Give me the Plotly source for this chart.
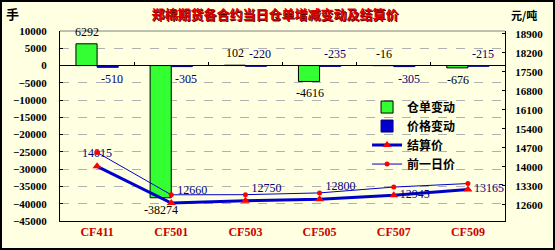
import plotly.graph_objects as go

categories = ["CF411", "CF501", "CF503", "CF505", "CF507", "CF509"]
cangdan_change = [6292, -38274, 102, -4616, -16, -676]
price_change = [-510, -305, -220, -235, -305, -215]
settle_price = [14015, 12660, 12750, 12800, 12945, 13165]
prev_price = [14525, 12965, 12970, 13035, 13250, 13380]

cangdan_label_side = ["above", "below", "above", "below", "above", "below"]
price_label_side = ["below", "below", "above", "above", "below", "above"]
settle_text_pos = ["top center", "top right", "top right", "top right", "middle right", "middle right"]

BG = "#FFFFE1"
SERIF = "Liberation Serif"
CJK = "Noto Sans CJK SC"

W, H = 555, 250
ML, MR, MT, MB = 60, 50, 31, 29

fig = go.Figure()

fig.add_trace(go.Bar(
    name="仓单变动", x=categories, y=cangdan_change, yaxis="y",
    marker=dict(color="#33FF33", line=dict(color="#000000", width=1)),
))
fig.add_trace(go.Bar(
    name="价格变动", x=categories, y=price_change, yaxis="y",
    marker=dict(color="#0000CC", line=dict(color="#000080", width=1)),
))
fig.add_trace(go.Scatter(
    name="结算价", x=categories, y=settle_price, yaxis="y2",
    mode="lines+markers+text", text=[str(v) for v in settle_price],
    textposition=settle_text_pos,
    textfont=dict(family=SERIF, size=12, color="#000080"),
    line=dict(color="#0000CC", width=3),
    marker=dict(symbol="triangle-up", size=8, color="#FF0000"),
))
fig.add_trace(go.Scatter(
    name="前一日价", x=categories, y=prev_price, yaxis="y2",
    mode="lines+markers",
    line=dict(color="#0000CC", width=1),
    marker=dict(symbol="circle", size=5, color="#FF0000"),
))
# helper trace for category ticks on the zero line
fig.add_trace(go.Scatter(x=categories, y=[None] * len(categories), xaxis="x2",
                         yaxis="y", showlegend=False, hoverinfo="skip"))

annotations = []
for cat, v, side in zip(categories, cangdan_change, cangdan_label_side):
    if side == "above":
        y, anc, ys = max(v, 0), "bottom", 3
    else:
        y, anc, ys = min(v, 0), "top", -3
    annotations.append(dict(x=cat, y=y, xref="x", yref="y", text=str(v), showarrow=False,
                            xshift=-10, yshift=ys, yanchor=anc,
                            font=dict(family=SERIF, size=12, color="#000000")))
for cat, v, side in zip(categories, price_change, price_label_side):
    if side == "above":
        y, anc, ys = max(v, 0), "bottom", 3
    else:
        y, anc, ys = min(v, 0), "top", -3
    annotations.append(dict(x=cat, y=y, xref="x", yref="y", text=str(v), showarrow=False,
                            xshift=15, yshift=ys, yanchor=anc,
                            font=dict(family=SERIF, size=12, color="#000080")))

pw, ph = W - ML - MR, H - MT - MB


def px_to_domain(px, py):
    return (px - ML) / pw, (H - MB - py) / ph


ux, uy = px_to_domain(12, 14)
annotations.append(dict(x=ux, y=uy, xref="paper", yref="paper", text="手",
                        showarrow=False, xanchor="center", yanchor="middle",
                        font=dict(family=CJK, size=13, color="#000000", weight="bold")))
ux, uy = px_to_domain(524, 15)
annotations.append(dict(x=ux, y=uy, xref="paper", yref="paper", text="元/吨",
                        showarrow=False, xanchor="center", yanchor="middle",
                        font=dict(family=CJK, size=11, color="#000000", weight="bold")))

shapes = [
    dict(type="line", xref="paper", yref="paper", x0=0, x1=1, y0=1, y1=1,
         line=dict(color="#808080", width=1)),
    dict(type="rect", xref="paper", yref="paper",
         x0=-(ML - 1) / pw, x1=1 + (MR - 1) / pw, y0=-(MB - 1) / ph, y1=1 + (MT - 1) / ph,
         line=dict(color="#000000", width=2)),
]

fig.update_layout(
    width=W, height=H,
    margin=dict(l=ML, r=MR, t=MT, b=MB, pad=0),
    paper_bgcolor=BG, plot_bgcolor=BG,
    barmode="group", bargap=0.43, bargroupgap=0,
    title=dict(text="郑棉期货各合约当日仓单增减变动及结算价", x=275 / W, y=1 - 14 / H,
               xanchor="center", yanchor="middle",
               font=dict(family=CJK, size=13, color="#DD0000", weight="bold",
                         shadow="1px 1px 0px #600000")),
    xaxis=dict(type="category", categoryorder="array", categoryarray=categories,
               range=[-0.5, 5.5], showline=True, linecolor="#000000", linewidth=1,
               ticks="", showgrid=False, zeroline=False,
               tickfont=dict(family=SERIF, size=12, color="#CC0000", weight="bold")),
    xaxis2=dict(type="category", categoryorder="array", categoryarray=categories,
                range=[-0.5, 5.5], overlaying="x", anchor="free", position=45000 / 55000,
                side="bottom", showline=False, showticklabels=False, showgrid=False,
                ticks="inside", tickson="boundaries", ticklen=4, tickcolor="#000000",
                zeroline=False),
    yaxis=dict(range=[-45000, 10000], dtick=5000, tickformat="d",
               showline=True, linecolor="#000000", linewidth=1,
               ticks="inside", ticklen=3, tickcolor="#000000", ticklabelstandoff=10,
               showgrid=True, gridcolor="#B0B0B0", griddash="dash", gridwidth=1,
               zeroline=True, zerolinecolor="#000000", zerolinewidth=1,
               tickfont=dict(family=SERIF, size=11, color="#000000", weight="bold")),
    yaxis2=dict(range=[12000, 19000], dtick=700, tickformat="d", overlaying="y", side="right",
                showline=True, linecolor="#000000", linewidth=1,
                ticks="inside", ticklen=3, tickcolor="#000000", ticklabelstandoff=7,
                showgrid=False, zeroline=False,
                tickfont=dict(family=SERIF, size=11, color="#000000", weight="bold")),
    legend=dict(x=0.69, y=0.676, xanchor="left", yanchor="top", bgcolor="rgba(0,0,0,0)",
                traceorder="normal", itemwidth=30, tracegroupgap=0,
                font=dict(family=CJK, size=12, color="#000000", weight="bold")),
    showlegend=True,
    annotations=annotations,
    shapes=shapes,
)

fig.write_html("out.html")
